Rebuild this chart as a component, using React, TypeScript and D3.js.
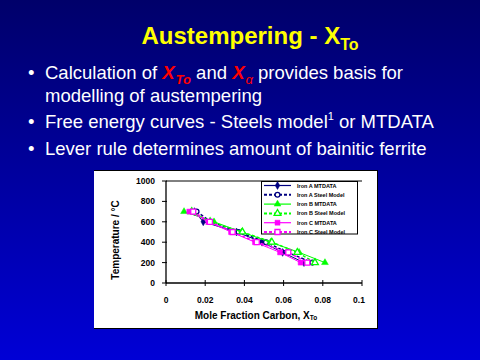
import React from "react";
import * as d3 from "d3";

const temps = [700, 600, 500, 400, 300, 200];
const ironA_MTDATA = [0.0145, 0.019, 0.036, 0.049, 0.0595, 0.0704];
const ironA_Steel = [0.0156, 0.023, 0.037, 0.051, 0.062, 0.0747];
const ironB_MTDATA = [0.0092, 0.0245, 0.0386, 0.0534, 0.0679, 0.0811];
const ironB_Steel = [0.0131, 0.0225, 0.039, 0.054, 0.067, 0.076];
const ironC_MTDATA = [0.0119, 0.0216, 0.0332, 0.0454, 0.0582, 0.0687];
const ironC_Steel = [0.0139, 0.0224, 0.034, 0.0463, 0.0624, 0.0721];

const xTicks = [0, 0.02, 0.04, 0.06, 0.08, 0.1];
const xTickLabels = ["0", "0.02", "0.04", "0.06", "0.08", "0.1"];
const yTicks = [0, 200, 400, 600, 800, 1000];

type Series = { name: string; xs: number[]; color: string; dashed: boolean; marker: string; filled: boolean };

const series: Series[] = [
  { name: "Iron A  MTDATA", xs: ironA_MTDATA, color: "#000080", dashed: false, marker: "diamond", filled: true },
  { name: "Iron A  Steel Model", xs: ironA_Steel, color: "#000080", dashed: true, marker: "circle", filled: false },
  { name: "Iron B  MTDATA", xs: ironB_MTDATA, color: "#00ff00", dashed: false, marker: "triangle", filled: true },
  { name: "Iron B  Steel Model", xs: ironB_Steel, color: "#00ff00", dashed: true, marker: "triangle", filled: false },
  { name: "Iron C  MTDATA", xs: ironC_MTDATA, color: "#ff00ff", dashed: false, marker: "square", filled: true },
  { name: "Iron C  Steel Model", xs: ironC_Steel, color: "#ff00ff", dashed: true, marker: "square", filled: false },
];

const symMap: Record<string, d3.SymbolType> = {
  diamond: d3.symbolDiamond,
  circle: d3.symbolCircle,
  triangle: d3.symbolTriangle,
  square: d3.symbolSquare,
};

function Marker({ s, x, y }: { s: Series; x: number; y: number }) {
  const size = s.marker === "square" ? 25 : s.marker === "triangle" ? 20 : 18;
  const path = d3.symbol(symMap[s.marker], size)() as string;
  return (
    <path
      d={path}
      transform={`translate(${x},${y})`}
      fill={s.filled ? s.color : "#ffffff"}
      stroke={s.color}
      strokeWidth={s.filled ? 0.5 : 1.3}
    />
  );
}

export default function App() {
  const x = d3.scaleLinear().domain([0, 0.1]).range([166, 362]);
  const y = d3.scaleLinear().domain([0, 1000]).range([283, 181]);
  const line = d3
    .line<[number, number]>()
    .x((d) => x(d[0]))
    .y((d) => y(d[1]));

  const font = "Arial, 'Liberation Sans', sans-serif";

  return (
    <svg
      width={480}
      height={360}
      style={{ position: "absolute", left: 0, top: 0, display: "block" }}
      fontFamily={font}
    >
      <defs>
        <linearGradient id="bg" x1="0" y1="0" x2="0" y2="1">
          <stop offset="0" stopColor="#00006a" />
          <stop offset="1" stopColor="#0000d6" />
        </linearGradient>
      </defs>
      <rect x={0} y={0} width={480} height={360} fill="url(#bg)" />

      {/* Title */}
      <text x={250} y={44} textAnchor="middle" fill="#ffff00" fontSize={24} fontWeight="bold">
        Austempering - X
        <tspan fontSize={16} dy={6}>To</tspan>
      </text>

      {/* Bullets */}
      <g fill="#ffffff" fontSize={18.5}>
        <text x={28} y={79}>•</text>
        <text x={45} y={79}>
          Calculation of{" "}
          <tspan fill="#ff0000" fontStyle="italic" fontWeight="bold">X</tspan>
          <tspan fill="#ff0000" fontStyle="italic" fontWeight="bold" fontSize={13} dx={1} dy={5}>To</tspan>
          <tspan dy={-5}> and </tspan>
          <tspan fill="#ff0000" fontStyle="italic" fontWeight="bold">X</tspan>
          <tspan fill="#ff0000" fontStyle="italic" fontSize={13} dx={1} dy={5}>α</tspan>
          <tspan dy={-5}>  provides basis for</tspan>
        </text>
        <text x={45} y={101.5}>modelling of austempering</text>
        <text x={28} y={128}>•</text>
        <text x={45} y={128}>
          Free energy curves - Steels model
          <tspan fontSize={11} dy={-8}>1</tspan>
          <tspan dy={8}> or MTDATA</tspan>
        </text>
        <text x={28} y={155}>•</text>
        <text x={45} y={155}>Lever rule determines amount of bainitic ferrite</text>
      </g>

      {/* Chart panel */}
      <rect x={94} y={170} width={283} height={158} fill="#ffffff" />
      <line x1={94} y1={170.5} x2={377} y2={170.5} stroke="#000" strokeWidth={1} />
      <line x1={377.5} y1={170} x2={377.5} y2={329} stroke="#000" strokeWidth={1} />
      <line x1={94} y1={328.5} x2={378} y2={328.5} stroke="#000" strokeWidth={1} />

      {/* Axes */}
      <line x1={x(0)} y1={y(1000)} x2={x(0.1)} y2={y(1000)} stroke="#000" strokeWidth={1} />
      <line x1={x(0)} y1={y(0)} x2={x(0)} y2={y(1000)} stroke="#000" strokeWidth={1.3} />
      <line x1={x(0)} y1={y(0)} x2={x(0.1)} y2={y(0)} stroke="#000" strokeWidth={1.5} />
      {yTicks.map((t) => (
        <g key={"y" + t}>
          <line x1={x(0) - 4} x2={x(0) + 1} y1={y(t)} y2={y(t)} stroke="#000" />
          <text x={155} y={y(t) + 3} textAnchor="end" fontSize={8.5} fontWeight="bold">
            {t}
          </text>
        </g>
      ))}
      {xTicks.map((t, i) => (
        <g key={"x" + t}>
          <line x1={x(t)} x2={x(t)} y1={y(0) - 3} y2={y(0) + 3} stroke="#000" />
          <text x={x(t) + (i === 5 ? -3 : 0)} y={303} textAnchor="middle" fontSize={8.5} fontWeight="bold">
            {xTickLabels[i]}
          </text>
        </g>
      ))}
      <text
        transform={`translate(${119},${240}) rotate(-90)`}
        textAnchor="middle"
        fontSize={10}
        fontWeight="bold"
      >
        Temperature / °C
      </text>
      <text x={256} y={319} textAnchor="middle" fontSize={10} fontWeight="bold">
        Mole Fraction Carbon, X<tspan fontSize={6.5} dy={1}>To</tspan>
      </text>

      {/* Series */}
      {series.map((s) => {
        const pts: [number, number][] = s.xs.map((v, i) => [v, temps[i]]);
        return (
          <g key={s.name}>
            <path
              d={line(pts) as string}
              fill="none"
              stroke={s.color}
              strokeWidth={s.dashed ? 1.5 : 1}
              strokeDasharray={s.dashed ? "3,2" : undefined}
            />
            {pts.map((p, i) => (
              <Marker key={i} s={s} x={x(p[0])} y={y(p[1])} />
            ))}
          </g>
        );
      })}

      {/* Legend */}
      <rect x={261.5} y={181.5} width={96} height={52.5} fill="#ffffff" stroke="#000" strokeWidth={1} />
      {series.map((s, i) => {
        const ly = 185.5 + i * 9.3;
        return (
          <g key={"lg" + i}>
            <line
              x1={264}
              x2={291}
              y1={ly}
              y2={ly}
              stroke={s.color}
              strokeWidth={s.dashed ? 2 : 1.2}
              strokeDasharray={s.dashed ? "3,2" : undefined}
            />
            <Marker s={s} x={277.5} y={ly} />
            <text x={297} y={ly + 2} fontSize={5.5} fontWeight="bold">
              {s.name}
            </text>
          </g>
        );
      })}
    </svg>
  );
}
